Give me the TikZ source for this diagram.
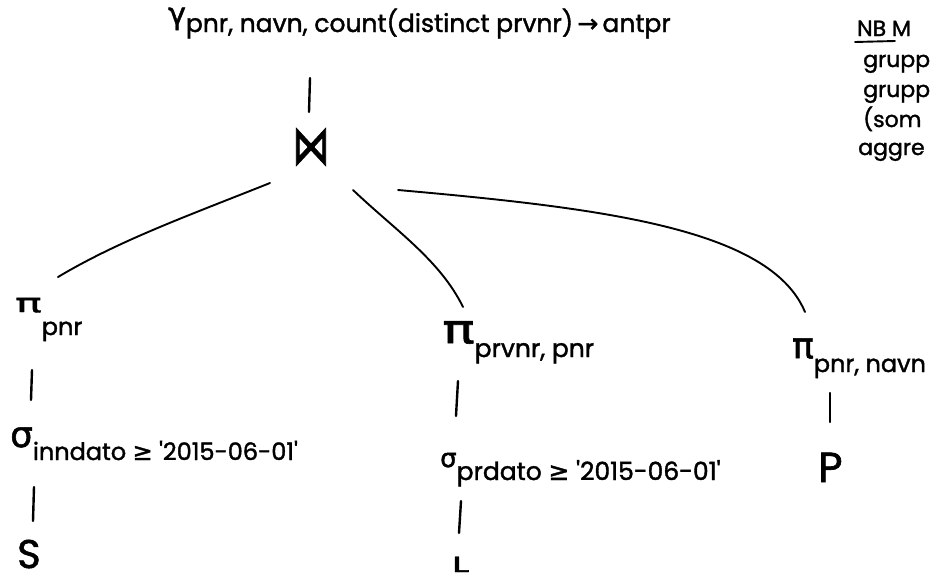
\documentclass[tikz,border=0pt]{standalone}
\usepackage{fontspec}
\setmainfont{Poppins}[UprightFeatures={FakeBold=1.5}]
\newfontfamily\symf{DejaVu Sans}[FakeBold=1.5]
\begin{document}
\begin{tikzpicture}[x=1pt,y=-1pt,
  lbl/.style={inner sep=0pt, anchor=base west, text depth=0pt, font=\fontsize{24}{24}\selectfont},
  notetxt/.style={inner sep=0pt, anchor=base west, text depth=0pt, font=\fontsize{22}{22}\selectfont},
  wire/.style={line width=1.9pt, line cap=round},
  barline/.style={line width=2.4pt, line cap=round}]
\useasboundingbox[fill=white] (0,0) rectangle (935,581);

% nodes
\node[lbl, font=\fontsize{25}{25}\selectfont] (gam) at (168,24) {{\symf\fontsize{30}{30}\selectfont γ}\raisebox{-8pt}{pnr, navn, count(distinct prvnr)\,{\symf →}\,antpr}};
\node[inner sep=0pt] (join) at (311,147) {\symf\fontsize{44}{44}\selectfont\scalebox{0.85}[1.25]{⋈}};

\node[lbl] (pi1) at (15,312) {{\symf\fontsize{26}{26}\selectfont\scalebox{1.7}[1]{π}}\raisebox{-23pt}{pnr}};
\node[lbl] (sig1) at (10,447) {{\symf\fontsize{36}{36}\selectfont σ}\raisebox{-13pt}{inndato {\symf ≥} \textquotesingle 2015-06-01\textquotesingle}};
\node[lbl, font=\fontsize{40}{40}\selectfont] (S) at (17,568) {S};

\node[lbl, font=\fontsize{25}{25}\selectfont] (pi2) at (442,343) {{\symf\fontsize{40}{40}\selectfont\scalebox{1.35}[1]{π}}\raisebox{-14pt}{prvnr, pnr}};
\node[lbl, font=\fontsize{25}{25}\selectfont] (sig2) at (440,467) {{\symf\fontsize{26}{26}\selectfont σ}\raisebox{-13pt}{prdato {\symf ≥} \textquotesingle 2015-06-01\textquotesingle}};
\node[lbl, font=\fontsize{22}{22}\selectfont] (L) at (452,572) {\scalebox{1.8}[1]{L}};

\node[lbl] (pi3) at (792,358) {{\symf\fontsize{36}{36}\selectfont π}\raisebox{-14pt}{pnr, navn}};
\node[lbl, font=\fontsize{42}{42}\selectfont] (P) at (818,482) {P};

% note (cut off at the right edge)
\node[notetxt] (n1) at (857,36) {NB M};
\node[notetxt] (n2) at (863,67) {grupp};
\node[notetxt] (n3) at (863,97) {grupp};
\node[notetxt] (n4) at (863,127) {(som};
\node[notetxt] (n5) at (858,155) {aggre};
\coordinate (ul-a) at (855,42);
\coordinate (ul-b) at (895,41);
\draw[wire] (ul-a) -- (ul-b);

% vertical bars
\coordinate (b0t) at (310,78);  \coordinate (b0b) at (309,112);
\coordinate (b1t) at (32,370);  \coordinate (b1b) at (31,400);
\coordinate (b2t) at (34,487);  \coordinate (b2b) at (33,521);
\coordinate (b3t) at (458,381); \coordinate (b3b) at (456,416);
\coordinate (b4t) at (461,501); \coordinate (b4b) at (459,533);
\coordinate (b5t) at (830,393); \coordinate (b5b) at (830,422);
\foreach \b in {b0,b1,b2,b3,b4,b5} \draw[barline] (\b t) -- (\b b);

% join branches
\coordinate (jl) at (270,183);
\coordinate (jm) at (353,190);
\coordinate (jr) at (398,190);
\coordinate (p1t) at (58,277);
\coordinate (p2t) at (463,307);
\coordinate (p3t) at (805,312);
\draw[wire] (jl) .. controls (190,215) and (120,240) .. (p1t);
\draw[wire] (jm) .. controls (395,230) and (440,260) .. (p2t);
\draw[wire] (jr) .. controls (600,208) and (770,228) .. (p3t);
\end{tikzpicture}
\end{document}
